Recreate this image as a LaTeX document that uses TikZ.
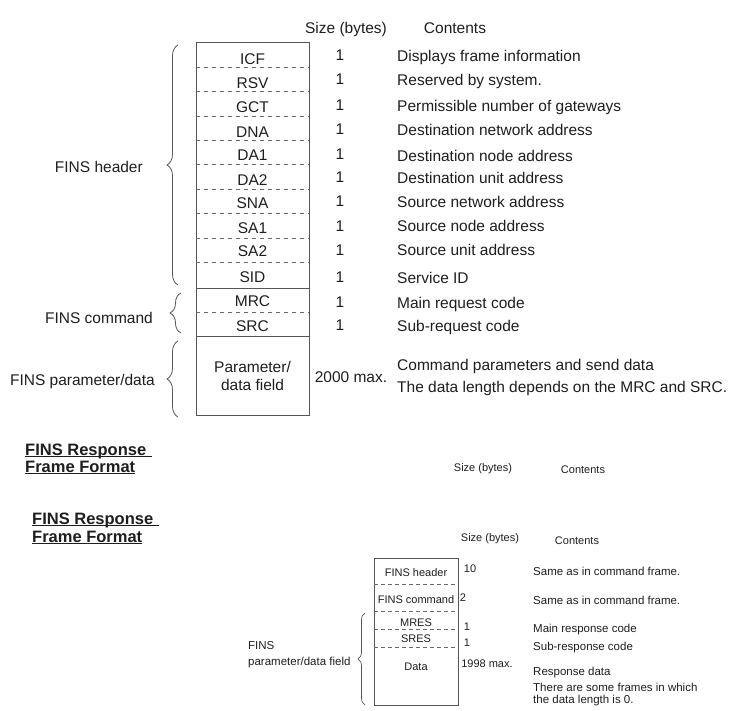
\documentclass[tikz,border=0pt]{standalone}
\usepackage{fontspec}
\setmainfont{Liberation Sans}
\usetikzlibrary{decorations.pathreplacing}
\definecolor{ink}{HTML}{1E1E1E}
\definecolor{boxline}{HTML}{555555}
\definecolor{dashline}{HTML}{6A6A6A}
\begin{document}
\begin{tikzpicture}[x=1pt,y=-1pt,
  big/.style={inner sep=0pt,text=ink,font=\fontsize{15.5}{18}\selectfont,text height=11.1pt,text depth=0pt},
  sml/.style={inner sep=0pt,text=ink,font=\fontsize{11}{13}\selectfont,text height=7.9pt,text depth=0pt},
  tiny/.style={inner sep=0pt,text=ink,font=\fontsize{11.5}{13.5}\selectfont,text height=8.2pt,text depth=0pt},
  ttl/.style={inner sep=0pt,text=ink,font=\fontsize{16.5}{19}\selectfont\bfseries,text height=11.8pt,text depth=0pt,anchor=base west},
  frame/.style={draw=boxline,line width=0.9pt},
  sepline/.style={draw=boxline,line width=0.9pt},
  dashsep/.style={draw=dashline,line width=0.8pt,dash pattern=on 3.5pt off 4.5pt},
  dashsmall/.style={draw=dashline,line width=0.8pt,dash pattern=on 4pt off 3pt},
  bigbrace/.style={draw=boxline,line width=0.8pt,decorate,decoration={brace,amplitude=11pt}},
  smallbrace/.style={draw=boxline,line width=0.7pt,decorate,decoration={brace,amplitude=7pt}},
  uline/.style={draw=ink,line width=1pt}
]
\useasboundingbox (0,0) rectangle (734,711);

% ---------- top: command frame ----------
\node[big] (hsize) at (346,28) {Size (bytes)};
\node[big] (hcont) at (455,28) {Contents};

\draw[frame] (196,42) rectangle (309,415);
\foreach \yy in {67,91,116,140,164,189,213,238,262,312}
  \draw[dashsep] (196,\yy) -- (309,\yy);
\draw[sepline] (196,288) -- (309,288);
\draw[sepline] (196,336) -- (309,336);

\foreach \name/\lab/\yy in {icf/ICF/59,rsv/RSV/83,gct/GCT/107,dna/DNA/132,da1/DA1/155,da2/DA2/180,sna/SNA/203,sa1/SA1/228,sa2/SA2/251,sid/SID/277,mrc/MRC/301,src/SRC/326}
  \node[big] (\name) at (252.5,\yy) {\lab};
\node[big] (par1) at (252.5,367) {Parameter/};
\node[big] (par2) at (252.5,385) {data field};

\foreach \name/\yy in {s1/55,s2/79,s3/105,s4/129,s5/154,s6/177,s7/201,s8/226,s9/250,s10/277,s11/302,s12/325}
  \node[big] (\name) at (340,\yy) {1};
\node[big] (s13) at (351,377) {2000 max.};

\node[big,anchor=west] (c1) at (397,56) {Displays frame information};
\node[big,anchor=west] (c2) at (397,80) {Reserved by system.};
\node[big,anchor=west] (c3) at (397,106) {Permissible number of gateways};
\node[big,anchor=west] (c4) at (397,130) {Destination network address};
\node[big,anchor=west] (c5) at (397,156) {Destination node address};
\node[big,anchor=west] (c6) at (397,178) {Destination unit address};
\node[big,anchor=west] (c7) at (397,202) {Source network address};
\node[big,anchor=west] (c8) at (397,226) {Source node address};
\node[big,anchor=west] (c9) at (397,250) {Source unit address};
\node[big,anchor=west] (c10) at (397,278) {Service ID};
\node[big,anchor=west] (c11) at (397,303) {Main request code};
\node[big,anchor=west] (c12) at (397,326) {Sub-request code};
\node[big,anchor=west] (c13) at (397,365) {Command parameters and send data};
\node[big,anchor=west] (c14) at (397,387) {The data length depends on the MRC and SRC.};

\coordinate (bh1) at (178,285); \coordinate (bh2) at (178,45);
\coordinate (bc1) at (181,333); \coordinate (bc2) at (181,293);
\coordinate (bp1) at (178,417); \coordinate (bp2) at (178,341);
\draw[bigbrace] (bh1) -- (bh2);
\draw[bigbrace] (bc1) -- (bc2);
\draw[bigbrace] (bp1) -- (bp2);
\node[big,anchor=east] (lhead) at (143,167) {FINS header};
\node[big,anchor=east] (lcmd) at (153,318) {FINS command};
\node[big,anchor=east] (lpar) at (155,380) {FINS parameter/data};

% ---------- titles ----------
\node[ttl] (t1a) at (25,455) {FINS Response};
\node[ttl] (t1b) at (25,472) {Frame Format};
\draw[uline] ([yshift=-1.5pt]t1a.base west) -- ([xshift=6pt,yshift=-1.5pt]t1a.base east);
\draw[uline] ([yshift=-1.5pt]t1b.base west) -- ([yshift=-1.5pt]t1b.base east);
\node[sml] (msize) at (483,468) {Size (bytes)};
\node[sml] (mcont) at (583,470) {Contents};

\node[ttl] (t2a) at (32,524) {FINS Response};
\node[ttl] (t2b) at (32,542) {Frame Format};
\draw[uline] ([yshift=-1.5pt]t2a.base west) -- ([xshift=6pt,yshift=-1.5pt]t2a.base east);
\draw[uline] ([yshift=-1.5pt]t2b.base west) -- ([yshift=-1.5pt]t2b.base east);

% ---------- bottom: response frame ----------
\node[sml] (bsize) at (490,538) {Size (bytes)};
\node[sml] (bcont) at (577,541) {Contents};

\draw[frame] (374,558) rectangle (458,705);
\foreach \yy in {584,611,629,647}
  \draw[dashsmall] (374,\yy) -- (458,\yy);
\node[sml] (bfh) at (416,573) {FINS header};
\node[sml] (bfc) at (416,600) {FINS command};
\node[sml] (bmres) at (416,623) {MRES};
\node[sml] (bsres) at (416,639) {SRES};
\node[sml] (bdata) at (416,667) {Data};

\node[sml] (bs1) at (470,569) {10};
\node[sml] (bs2) at (463,598) {2};
\node[sml] (bs3) at (467,627) {1};
\node[sml] (bs4) at (467,643) {1};
\node[sml] (bs5) at (487,664) {1998 max.};

\node[tiny,anchor=west] (bc1t) at (533,571) {Same as in command frame.};
\node[tiny,anchor=west] (bc2t) at (533,600) {Same as in command frame.};
\node[tiny,anchor=west] (bc3t) at (533,628) {Main response code};
\node[tiny,anchor=west] (bc4t) at (533,646) {Sub-response code};
\node[tiny,anchor=west] (bc5t) at (533,671) {Response data};
\node[tiny,anchor=west] (bc6t) at (533,687) {There are some frames in which};
\node[tiny,anchor=west] (bc7t) at (533,699) {the data length is 0.};

\coordinate (bb1) at (365,705); \coordinate (bb2) at (365,613);
\draw[smallbrace] (bb1) -- (bb2);
\node[tiny,anchor=west] (bl1) at (248,645) {FINS};
\node[tiny,anchor=west] (bl2) at (248,661) {parameter/data field};
\end{tikzpicture}
\end{document}
